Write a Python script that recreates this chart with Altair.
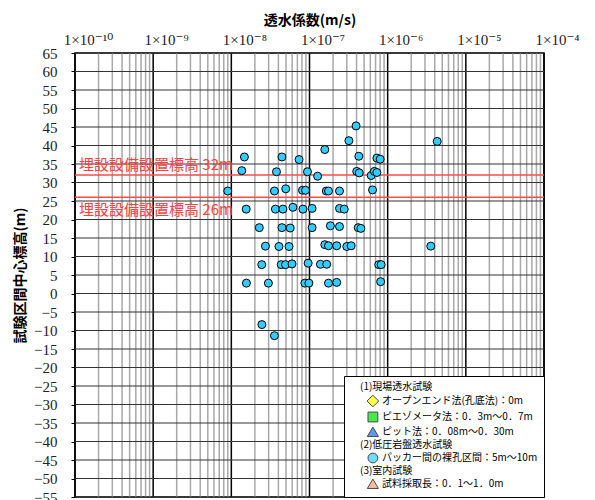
import altair as alt
import pandas as pd

JP = "Noto Sans CJK JP"
NUM = "Liberation Serif, DejaVu Serif"

# ---- data ----
k_values = [
    3.94e-7, 3.19e-7, 4.30e-6, 1.57e-7, 1.47e-8, 4.44e-8, 7.35e-8, 4.28e-7, 7.28e-7, 8.02e-7,
    1.36e-8, 3.78e-8, 9.42e-8, 1.27e-7, 4.02e-7, 4.33e-7, 6.15e-7, 6.76e-7, 7.28e-7,
    9.0e-9, 3.56e-8, 4.97e-8, 8.13e-8, 8.89e-8, 1.64e-7, 1.75e-7, 2.42e-7, 6.4e-7,
    1.55e-8, 3.66e-8, 4.57e-8, 6.14e-8, 8.24e-8, 1.08e-7, 2.42e-7, 2.78e-7,
    2.28e-8, 4.44e-8, 5.66e-8, 1.08e-7, 1.85e-7, 2.42e-7, 4.2e-7, 4.54e-7,
    2.73e-8, 4.07e-8, 5.47e-8, 1.57e-7, 1.75e-7, 2.23e-7, 3.0e-7, 3.41e-7, 3.56e-6,
    2.45e-8, 4.35e-8, 4.93e-8, 5.97e-8, 9.61e-8, 1.38e-7, 1.66e-7, 7.68e-7, 8.26e-7,
    1.56e-8, 2.98e-8, 8.73e-8, 9.82e-8, 1.75e-7, 2.23e-7, 8.13e-7,
    2.46e-8, 3.56e-8,
]
elev_values = [
    45.3, 41.3, 41.1, 38.9, 36.9, 36.9, 36.2, 37.1, 36.6, 36.3,
    33.2, 32.9, 32.9, 31.7, 33.0, 32.6, 31.9, 33.0, 32.7,
    27.7, 27.7, 28.3, 27.9, 27.9, 27.7, 27.7, 27.7, 28.0,
    22.8, 22.8, 22.8, 23.3, 22.8, 23.0, 23.0, 22.8,
    17.8, 17.8, 17.7, 17.8, 18.3, 18.1, 17.8, 17.6,
    12.8, 12.7, 12.7, 13.2, 12.9, 12.9, 12.7, 12.9, 12.8,
    7.8, 7.8, 7.8, 8.0, 8.2, 7.9, 7.9, 7.8, 7.8,
    2.8, 2.8, 2.8, 2.8, 2.8, 3.0, 3.2,
    -8.4, -11.4,
]

decade_exponents = [-10, -9, -8, -7, -6, -5, -4]
x_tick_labels = ["1×10⁻¹⁰", "1×10⁻⁹", "1×10⁻⁸", "1×10⁻⁷", "1×10⁻⁶", "1×10⁻⁵", "1×10⁻⁴"]
minor_multipliers = [2, 3, 4, 5, 6, 7, 8, 9]
y_ticks = list(range(-55, 70, 5))

ref_levels = [32, 26]
ref_labels = ["埋設設備設置標高 32m", "埋設設備設置標高 26m"]

# legend entries: section headers have no symbol; test items are indented
INDENT = "\u200b\u3000\u3000\u2009"
legend_labels = [
    "(1)現場透水試験",
    INDENT + "オープンエンド法(孔底法)：0m",
    INDENT + "ピエゾメータ法：0．3m～0．7m",
    INDENT + "ピット法：0．08m～0．30m",
    "(2)低圧岩盤透水試験",
    INDENT + "パッカー間の裸孔区間：5m～10m",
    "(3)室内試験",
    INDENT + "試料採取長：0．1～1．0m",
]
legend_colors = ["transparent", "#ffff00", "#00dd00", "#1a6ff0", "transparent", "#33ccff", "transparent", "#f4a07a"]
# symbol outlines (unit coordinates), drawn in the indent after the header column
legend_shapes = [
    "M0,0",
    "M4,-1.3L5.3,0L4,1.3L2.7,0Z",
    "M2.9,-1.1L5.1,-1.1L5.1,1.1L2.9,1.1Z",
    "M4,-1.1L5.25,1L2.75,1Z",
    "M0,0",
    "M5.1,0A1.1,1.1 0 1,1 2.9,0A1.1,1.1 0 1,1 5.1,0Z",
    "M0,0",
    "M4,-1.1L5.25,1L2.75,1Z",
]
point_fill = "#33ccff"

# ---- tables ----
decade_vals = [10.0 ** e for e in decade_exponents]
minor_vals = [m * 10.0 ** e for e in decade_exponents[:-1] for m in minor_multipliers]

pts = pd.DataFrame({"k": k_values, "elev": elev_values})
legend_df = pd.DataFrame({"entry": legend_labels, "k": [None] * len(legend_labels), "elev": [None] * len(legend_labels)})
minor_df = pd.DataFrame({"k": minor_vals})
major_df = pd.DataFrame({"k": decade_vals})
hgrid_df = pd.DataFrame({"y": y_ticks})
ref_df = pd.DataFrame({"y": ref_levels})

xscale = alt.Scale(type="log", domain=[decade_vals[0], decade_vals[-1]], nice=False)
yscale = alt.Scale(domain=[y_ticks[0], y_ticks[-1]], nice=False, zero=False)

label_array = "[" + ",".join("'" + s + "'" for s in x_tick_labels) + "]"
label_expr = f"{label_array}[round(log(datum.value)/LN10) - ({decade_exponents[0]})]"

xaxis = alt.Axis(
    orient="top", values=decade_vals, labelExpr=label_expr, grid=False, ticks=False, domain=False,
    labelFont=NUM, labelFontSize=15, labelColor="#222", labelPadding=6, labelFlush=False,
    labelOverlap=False, labelOffset=13,
    title="透水係数(m/s)", titleFont=JP, titleFontSize=14, titleFontWeight="bold", titlePadding=5,
    titleColor="black",
)
yaxis = alt.Axis(
    values=y_ticks, grid=False, ticks=True, tickSize=4, tickColor="black", domain=False,
    labelFont=NUM, labelFontSize=15, labelColor="#222", labelPadding=14, labelOverlap=False,
    title="試験区間中心標高(m)", titleFont=JP, titleFontSize=14, titleFontWeight="bold",
    titlePadding=6, titleColor="black",
)

leg = alt.Legend(
    title=None, orient="bottom-right", offset=0, padding=6,
    strokeColor="black", fillColor="white",
    labelFont=JP, labelFontSize=10, labelColor="black", labelLimit=400, labelOffset=0,
    symbolSize=80, rowPadding=1,
    symbolStrokeColor="black", symbolStrokeWidth=1,
)

minor = alt.Chart(minor_df).mark_rule(color="#a8a8a8", strokeWidth=1.5).encode(
    x=alt.X("k:Q", scale=xscale, axis=xaxis)
)
major = alt.Chart(major_df).mark_rule(color="black", strokeWidth=1.5).encode(
    x=alt.X("k:Q", scale=xscale, axis=xaxis)
)
hgrid = alt.Chart(hgrid_df).mark_rule(color="#333333", strokeWidth=1.2).encode(
    y=alt.Y("y:Q", scale=yscale, axis=yaxis)
)
red = alt.Chart(ref_df).mark_rule(color="#ff4d4d", strokeWidth=1.5).encode(
    y=alt.Y("y:Q", scale=yscale, axis=yaxis)
)

texts = []
for lvl, lab, dy in zip(ref_levels, ref_labels, [-10, 13]):
    t = alt.Chart(pd.DataFrame({"y": [lvl], "label": [lab]})).mark_text(
        align="left", baseline="middle", dx=4, dy=dy, font=JP, fontSize=15, color="#ff4040"
    ).encode(
        x=alt.XDatum(decade_vals[0], type="quantitative", scale=xscale, axis=xaxis),
        y=alt.Y("y:Q", scale=yscale, axis=yaxis),
        text="label:N",
    )
    texts.append(t)

points = alt.Chart(pts).mark_point(
    filled=True, shape="circle", size=64, fill=point_fill, stroke="black", strokeWidth=1, opacity=1
).encode(
    x=alt.X("k:Q", scale=xscale, axis=xaxis),
    y=alt.Y("elev:Q", scale=yscale, axis=yaxis),
)

legend_layer = alt.Chart(legend_df).mark_point(filled=True, stroke="black", strokeWidth=1).encode(
    x=alt.X("k:Q", scale=xscale, axis=xaxis),
    y=alt.Y("elev:Q", scale=yscale, axis=yaxis),
    color=alt.Color("entry:N", scale=alt.Scale(domain=legend_labels, range=legend_colors), legend=leg),
    shape=alt.Shape("entry:N", scale=alt.Scale(domain=legend_labels, range=legend_shapes), legend=leg),
)

chart = alt.layer(minor, major, hgrid, red, *texts, points, legend_layer).properties(
    width=469, height=444,
    autosize=alt.AutoSizeParams(type="none"),
    padding={"left": 67, "top": 45, "right": 43, "bottom": 3},
).configure_view(stroke="black", strokeWidth=1.5)

chart.save("out.html", embed_options={"renderer": "svg", "actions": False})
